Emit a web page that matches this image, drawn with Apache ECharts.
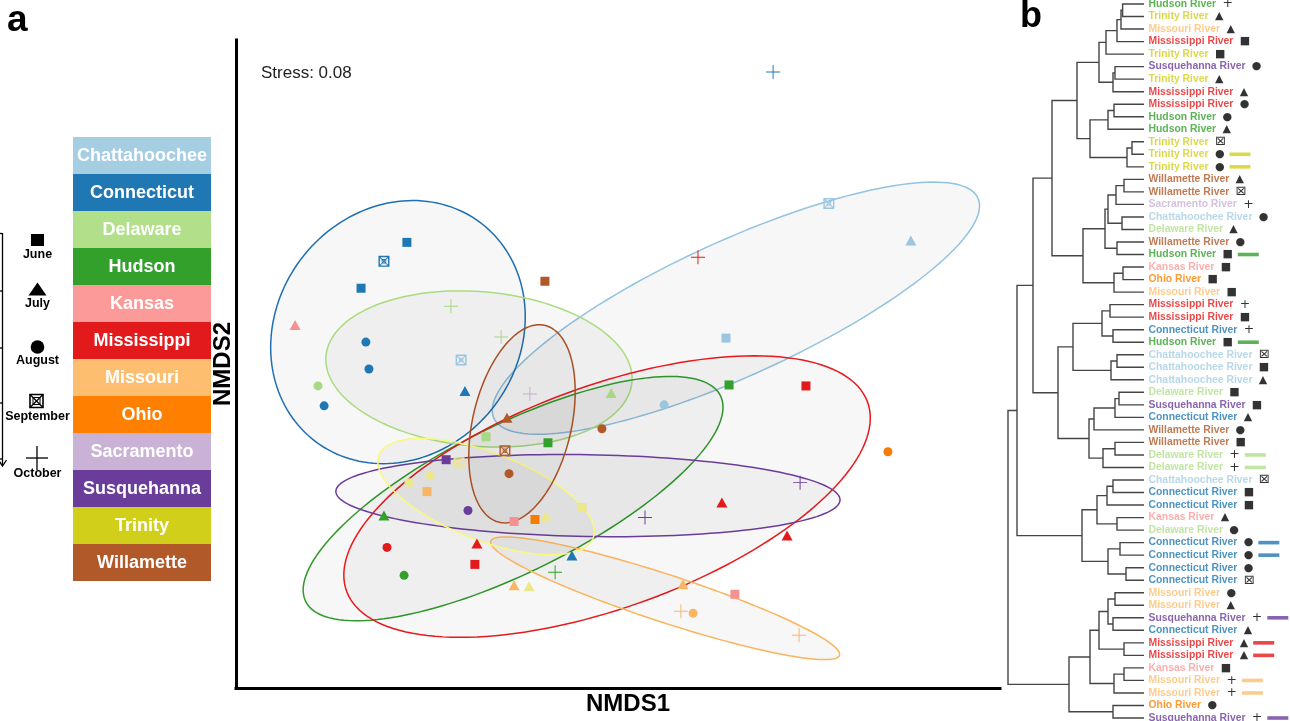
<!DOCTYPE html>
<html>
<head>
<meta charset="utf-8">
<script src="https://cdn.jsdelivr.net/npm/echarts/dist/echarts.min.js"></script>
<style>
  html, body { margin: 0; padding: 0; background: #fff; }
  #chart { width: 1290px; height: 721px; }
</style>
</head>
<body>
<div id="chart"></div>
<script>
// ---- rivers and colours ----
const riverNames = ['Chattahoochee', 'Connecticut', 'Delaware', 'Hudson', 'Kansas', 'Mississippi',
  'Missouri', 'Ohio', 'Sacramento', 'Susquehanna', 'Trinity', 'Willamette'];
const riverColors = ['#a6cee3', '#1f78b4', '#b2df8a', '#33a02c', '#fb9a99', '#e31a1c',
  '#fdbf6f', '#ff7f00', '#cab2d6', '#6a3d9a', '#d2cf1a', '#b15928'];
const pointColors = ['#9cc6df', '#1f78b4', '#a9d784', '#33a02c', '#f5928f', '#e31a1c',
  '#f9b766', '#f77c04', '#c6acd3', '#6a3d9a', '#ebe78b', '#b15928'];
const ellipseStrokeColors = {
  Chattahoochee: '#92c3e0', Connecticut: '#1f6fb4', Delaware: '#a9dc80', Hudson: '#2f9a2a',
  Mississippi: '#e8191c', Missouri: '#fcb45c', Susquehanna: '#6a3d9a', Trinity: '#f9f87e', Willamette: '#a84f22'
};

// ---- sampling months (marker shapes) ----
const monthNames = ['June', 'July', 'August', 'September', 'October'];
const monthGlyphs = ['\u25A0', '\u25B2', '\u25CF', '\u22A0', '+'];

// ---- NMDS ordination scores ----
const sampleRiver = [
  'Connecticut', 'Connecticut', 'Connecticut', 'Connecticut', 'Connecticut', 'Connecticut', 'Connecticut', 'Connecticut', 'Connecticut',
  'Delaware', 'Delaware', 'Delaware', 'Delaware', 'Delaware',
  'Chattahoochee', 'Chattahoochee', 'Chattahoochee', 'Chattahoochee', 'Chattahoochee',
  'Hudson', 'Hudson', 'Hudson', 'Hudson', 'Hudson',
  'Kansas', 'Kansas', 'Kansas',
  'Mississippi', 'Mississippi', 'Mississippi', 'Mississippi', 'Mississippi', 'Mississippi', 'Mississippi',
  'Missouri', 'Missouri', 'Missouri', 'Missouri', 'Missouri', 'Missouri',
  'Ohio', 'Ohio',
  'Sacramento',
  'Susquehanna', 'Susquehanna', 'Susquehanna', 'Susquehanna',
  'Trinity', 'Trinity', 'Trinity', 'Trinity', 'Trinity', 'Trinity',
  'Willamette', 'Willamette', 'Willamette', 'Willamette', 'Willamette'
];
const sampleMonth = [
  0, 0, 3, 2, 2, 2, 1, 1, 4,
  4, 4, 2, 1, 0,
  3, 1, 3, 0, 2,
  0, 1, 4, 2, 0,
  1, 0, 0,
  4, 2, 1, 0, 0, 1, 1,
  0, 1, 1, 4, 2, 4,
  0, 2,
  4,
  0, 2, 4, 4,
  3, 2, 2, 1, 0, 1,
  0, 1, 2, 3, 2
];
const nmds1 = [
  -0.829, -1.009, -0.919, -0.990, -0.978, -1.154, -0.601, -0.181, 0.609,
  -0.656, -0.459, -1.178, -0.027, -0.518,
  0.828, 1.150, -0.616, 0.424, 0.181,
  -0.275, -0.919, -0.247, -0.840, 0.436,
  -1.268, -0.408, 0.459,
  0.314, -0.907, -0.554, -0.562, 0.738, 0.408, 0.664,
  -0.750, -0.408, 0.255, 0.247, 0.295, 0.711,
  -0.326, 1.060,
  -0.346,
  -0.675, -0.589, 0.715, 0.106,
  -0.624, -0.738, -0.821, -0.283, -0.141, -0.349,
  -0.287, -0.436, -0.063, -0.444, -0.428
];
const nmds2 = [
  0.488, 0.304, 0.412, 0.088, -0.020, -0.168, -0.108, -0.768, 1.172,
  0.232, 0.108, -0.088, -0.116, -0.292,
  0.644, 0.496, 0.016, 0.104, -0.164,
  -0.316, -0.608, -0.836, -0.848, -0.084,
  0.156, -0.632, -0.924,
  0.428, -0.736, -0.720, -0.804, -0.088, -0.556, -0.688,
  -0.512, -0.888, -0.884, -0.992, -1.000, -1.088,
  -0.624, -0.352,
  -0.120,
  -0.384, -0.588, -0.476, -0.616,
  -0.396, -0.448, -0.476, -0.612, -0.576, -0.892,
  0.332, -0.216, -0.260, -0.348, -0.440
];

// ---- confidence ellipses per river: centre, semi-axes, rotation (deg) ----
const ellipseRiver = ['Chattahoochee', 'Connecticut', 'Delaware', 'Hudson', 'Mississippi', 'Missouri', 'Susquehanna', 'Trinity', 'Willamette'];
const ellipseCenter1 = [0.463, -0.864, -0.546, -0.412, -0.043, 0.185, -0.118, -0.518, -0.377];
const ellipseCenter2 = [0.224, 0.128, -0.020, -0.540, -0.532, -0.940, -0.528, -0.532, -0.240];
const ellipseSemiMajor = [1.048, 0.546, 0.603, 0.913, 1.091, 0.722, 0.990, 0.452, 0.405];
const ellipseSemiMinor = [0.270, 0.480, 0.310, 0.294, 0.444, 0.095, 0.164, 0.175, 0.194];
const ellipseAngle = [25, 57.6, -5, 27, 20.5, -18.5, -1, -21.7, 77.4];

// ---- hierarchical clustering (leaf order top to bottom) ----
const leafRiver = [
  'Hudson', 'Trinity', 'Missouri', 'Mississippi', 'Trinity', 'Susquehanna', 'Trinity', 'Mississippi', 'Mississippi', 'Hudson',
  'Hudson', 'Trinity', 'Trinity', 'Trinity', 'Willamette', 'Willamette', 'Sacramento', 'Chattahoochee', 'Delaware', 'Willamette',
  'Hudson', 'Kansas', 'Ohio', 'Missouri', 'Mississippi', 'Mississippi', 'Connecticut', 'Hudson', 'Chattahoochee', 'Chattahoochee',
  'Chattahoochee', 'Delaware', 'Susquehanna', 'Connecticut', 'Willamette', 'Willamette', 'Delaware', 'Delaware', 'Chattahoochee', 'Connecticut',
  'Connecticut', 'Kansas', 'Delaware', 'Connecticut', 'Connecticut', 'Connecticut', 'Connecticut', 'Missouri', 'Missouri', 'Susquehanna',
  'Connecticut', 'Mississippi', 'Mississippi', 'Kansas', 'Missouri', 'Missouri', 'Ohio', 'Susquehanna'
];
const leafMonth = [
  4, 1, 1, 0, 0, 2, 1, 1, 2, 2,
  1, 3, 2, 2, 1, 3, 4, 2, 1, 2,
  0, 0, 0, 0, 4, 0, 4, 0, 3, 0,
  1, 0, 0, 1, 2, 0, 4, 4, 3, 0,
  0, 1, 2, 2, 2, 2, 3, 2, 1, 4,
  1, 1, 1, 0, 4, 4, 2, 4
];
const leafMarked = [
  0, 0, 0, 0, 0, 0, 0, 0, 0, 0,
  0, 0, 1, 1, 0, 0, 0, 0, 0, 0,
  1, 0, 0, 0, 0, 0, 0, 1, 0, 0,
  0, 0, 0, 0, 0, 0, 1, 1, 0, 0,
  0, 0, 0, 1, 1, 0, 0, 0, 0, 1,
  0, 1, 1, 0, 1, 1, 0, 1
];
// merge steps: negative = leaf number, positive = earlier merge step
const mergePairs = [
  [-1, -2], [1, -3], [2, -4], [3, -5], [-6, -7], [5, -8], [4, 6], [-9, -10], [8, -11], [-12, -13],
  [10, -14], [9, 11], [7, 12], [-15, -16], [14, -17], [-18, -19], [15, 16], [-20, -21], [17, 18], [-22, -23],
  [20, -24], [19, 21], [13, 22], [-25, -26], [-27, -28], [24, 25], [-29, -30], [27, -31], [26, 28], [-32, -33],
  [30, -34], [31, -35], [-36, -37], [33, -38], [32, 34], [29, 35], [23, 36], [-39, -40], [38, -41], [-42, -43],
  [39, 40], [-44, -45], [-46, -47], [42, 43], [41, 44], [37, 45], [-48, -49], [-50, -51], [47, 48], [-52, -53],
  [49, 50], [-54, -55], [52, -56], [51, 53], [-57, -58], [54, 55], [46, 56]
];
const mergeHeight = [
  0.107, 0.115, 0.135, 0.19, 0.145, 0.155, 0.225, 0.15, 0.18, 0.06,
  0.085, 0.27, 0.335, 0.10, 0.14, 0.11, 0.18, 0.135, 0.195, 0.105,
  0.15, 0.305, 0.46, 0.17, 0.155, 0.21, 0.135, 0.165, 0.355, 0.125,
  0.145, 0.25, 0.145, 0.205, 0.275, 0.43, 0.555, 0.155, 0.185, 0.135,
  0.235, 0.12, 0.09, 0.18, 0.31, 0.635, 0.145, 0.155, 0.18, 0.10,
  0.225, 0.10, 0.15, 0.27, 0.155, 0.375, 0.68
];

// ---- dendrogram layout: node sits midway between its two children ----
const nodePos = [];
const refPos = r => (r < 0 ? { h: 0, y: -r } : nodePos[r - 1]);
const dendroLinks = mergePairs.map((m, i) => {
  const a = refPos(m[0]), b = refPos(m[1]);
  nodePos.push({ h: mergeHeight[i], y: (a.y + b.y) / 2 });
  return [mergeHeight[i], a.y, b.y, a.h, b.h];
});

// ---- marker shapes ----
const sqCrossPath = 'path://M0 0L20 0L20 20L0 20Z M2.6 2.6L2.6 17.4L17.4 17.4L17.4 2.6Z M1.2 0L20 18.8L18.8 20L0 1.2Z M18.8 0L20 1.2L1.2 20L0 18.8Z M6 6L14 6L14 14L6 14Z M7.4 7.4L7.4 12.6L12.6 12.6L12.6 7.4Z';
const plusPath = 'path://M9.3 0H10.7V9.3H20V10.7H10.7V20H9.3V10.7H0V9.3H9.3Z';
const monthSymbols = ['rect', 'triangle', 'circle', sqCrossPath, plusPath];
const monthSymbolSizes = [9, [11, 10], 9, 11, 14];

const chart = echarts.init(document.getElementById('chart'), null, { renderer: 'canvas' });

const scatterSeries = monthNames.map((mName, m) => ({
  name: mName,
  type: 'scatter',
  xAxisIndex: 0, yAxisIndex: 0,
  symbol: monthSymbols[m],
  symbolSize: monthSymbolSizes[m],
  z: 5,
  itemStyle: { opacity: 1 },
  data: sampleRiver.map((r, i) => ({ r, i })).filter(d => sampleMonth[d.i] === m).map(d => ({
    value: [nmds1[d.i], nmds2[d.i]],
    itemStyle: { color: pointColors[riverNames.indexOf(d.r)], opacity: 1 }
  }))
}));

const ellipseSeries = {
  type: 'custom',
  xAxisIndex: 0, yAxisIndex: 0,
  z: 2,
  clip: false,
  data: ellipseRiver.map((r, i) => [ellipseCenter1[i], ellipseCenter2[i], ellipseSemiMajor[i], ellipseSemiMinor[i], ellipseAngle[i]]),
  encode: { x: 0, y: 1 },
  renderItem: (params, api) => {
    const cx = api.value(0), cy = api.value(1), a = api.value(2), b = api.value(3);
    const th = api.value(4) * Math.PI / 180;
    const pts = [];
    for (let k = 0; k < 160; k++) {
      const t = k / 160 * 2 * Math.PI;
      const ex = a * Math.cos(t), ey = b * Math.sin(t);
      pts.push(api.coord([cx + ex * Math.cos(th) - ey * Math.sin(th), cy + ex * Math.sin(th) + ey * Math.cos(th)]));
    }
    return {
      type: 'polygon',
      shape: { points: pts },
      style: { fill: 'rgba(0,0,0,0.032)', stroke: ellipseStrokeColors[ellipseRiver[params.dataIndex]], lineWidth: 1.5 }
    };
  }
};

const dendroSeries = {
  type: 'custom',
  xAxisIndex: 1, yAxisIndex: 1,
  clip: false,
  data: dendroLinks,
  encode: { x: [0, 3, 4], y: [1, 2] },
  renderItem: (params, api) => {
    const h = api.value(0), y1 = api.value(1), y2 = api.value(2), h1 = api.value(3), h2 = api.value(4);
    return {
      type: 'polyline',
      shape: { points: [api.coord([h1, y1]), api.coord([h, y1]), api.coord([h, y2]), api.coord([h2, y2])] },
      style: { stroke: '#454545', lineWidth: 1.4, fill: null }
    };
  }
};

const labelRich = {
  s: { color: '#000', fontSize: 11, fontFamily: 'DejaVu Sans', padding: [0, 0, 0, 3] },
  x: { color: '#000', fontSize: 13, fontFamily: 'DejaVu Sans', padding: [0, 0, 0, 3] },
  p: { color: '#000', fontSize: 12.5, fontFamily: 'DejaVu Sans', padding: [0, 0, 0, 3] },
  g: { width: 5 }
};
const glyphStyle = ['s', 's', 's', 'x', 'p'];
riverNames.forEach((r, k) => {
  labelRich['t' + k] = { color: riverColors[k], fontWeight: 'bold', fontSize: 10.4, fontFamily: 'Liberation Sans, Arial' };
  labelRich['b' + k] = { backgroundColor: riverColors[k], width: 21, height: 3.6 };
});

const leafLabelSeries = {
  type: 'scatter',
  xAxisIndex: 1, yAxisIndex: 1,
  symbolSize: 1,
  itemStyle: { color: 'transparent' },
  silent: true,
  data: leafRiver.map((r, i) => [0, i + 1]),
  label: {
    show: true,
    position: 'right',
    distance: 4,
    formatter: p => {
      const i = p.dataIndex, k = riverNames.indexOf(leafRiver[i]), m = leafMonth[i];
      let s = '{t' + k + '|' + leafRiver[i] + ' River} {' + glyphStyle[m] + '|' + monthGlyphs[m] + '}';
      if (leafMarked[i]) s += '{g|}{b' + k + '|}';
      return s;
    },
    rich: labelRich
  }
};

// ---- legend blocks, month key, annotations ----
const graphics = [];
riverNames.forEach((r, i) => {
  graphics.push({ type: 'rect', shape: { x: 73, y: 137 + i * 37, width: 138, height: 37 }, style: { fill: riverColors[i] } });
  graphics.push({ type: 'text', x: 142, y: 156 + i * 37, style: { text: r, fill: '#fff', font: 'bold 18px "Liberation Sans", Arial', textAlign: 'center', align: 'center', textVerticalAlign: 'middle', verticalAlign: 'middle' } });
});
const monthTextY = [255, 304, 361, 417, 474];
graphics.push({ type: 'rect', shape: { x: 31, y: 234, width: 13, height: 12 }, style: { fill: '#000' } });
graphics.push({ type: 'polygon', shape: { points: [[28.5, 295.5], [46.5, 295.5], [37.5, 282.5]] }, style: { fill: '#000' } });
graphics.push({ type: 'circle', shape: { cx: 37.5, cy: 347, r: 6.8 }, style: { fill: '#000' } });
graphics.push({ type: 'rect', shape: { x: 30, y: 394.5, width: 13, height: 13 }, style: { fill: 'none', stroke: '#000', lineWidth: 1.6 } });
graphics.push({ type: 'rect', shape: { x: 33, y: 397.5, width: 7, height: 7 }, style: { fill: 'none', stroke: '#000', lineWidth: 1 } });
graphics.push({ type: 'line', shape: { x1: 30, y1: 394.5, x2: 43, y2: 407.5 }, style: { stroke: '#000', lineWidth: 1.2 } });
graphics.push({ type: 'line', shape: { x1: 43, y1: 394.5, x2: 30, y2: 407.5 }, style: { stroke: '#000', lineWidth: 1.2 } });
graphics.push({ type: 'line', shape: { x1: 26, y1: 458, x2: 48, y2: 458 }, style: { stroke: '#000', lineWidth: 1.3 } });
graphics.push({ type: 'line', shape: { x1: 37, y1: 446, x2: 37, y2: 470 }, style: { stroke: '#000', lineWidth: 1.3 } });
monthNames.forEach((m, i) => {
  graphics.push({ type: 'text', x: 37.5, y: monthTextY[i], style: { text: m, fill: '#000', font: 'bold 12.5px "Liberation Sans", Arial', textAlign: 'center', align: 'center', textVerticalAlign: 'middle', verticalAlign: 'middle' } });
});
// time arrow on the far left
graphics.push({ type: 'line', shape: { x1: 2.5, y1: 233, x2: 2.5, y2: 465 }, style: { stroke: '#000', lineWidth: 1.3 } });
[233.5, 291, 348, 403, 459].forEach(y => {
  graphics.push({ type: 'line', shape: { x1: 0, y1: y, x2: 2.5, y2: y }, style: { stroke: '#000', lineWidth: 1.3 } });
});
graphics.push({ type: 'polyline', shape: { points: [[-1.5, 460], [2.5, 466], [6.5, 460]] }, style: { stroke: '#000', lineWidth: 1.3, fill: null } });

graphics.push({ type: 'text', x: 261, y: 73, style: { text: 'Stress: 0.08', fill: '#222', font: '17px "Liberation Sans", Arial', textVerticalAlign: 'middle', verticalAlign: 'middle' } });
graphics.push({ type: 'text', x: 7, y: 21, style: { text: 'a', fill: '#000', font: 'bold 37px "Liberation Sans", Arial', textVerticalAlign: 'middle', verticalAlign: 'middle' } });
graphics.push({ type: 'text', x: 1020, y: 17, style: { text: 'b', fill: '#000', font: 'bold 36px "Liberation Sans", Arial', textVerticalAlign: 'middle', verticalAlign: 'middle' } });

const hiddenAxis = { show: false };
chart.setOption({
  animation: false,
  backgroundColor: '#fff',
  textStyle: { fontFamily: '"Liberation Sans", Arial, sans-serif' },
  grid: [
    { left: 236, top: 40, width: 764, height: 650 },
    { left: 1008, top: 4, width: 136, height: 714 }
  ],
  xAxis: [
    {
      gridIndex: 0, type: 'value', min: -1.5, max: 1.5,
      name: 'NMDS1', nameLocation: 'middle', nameGap: 4,
      nameTextStyle: { fontSize: 24, fontWeight: 'bold', color: '#000', padding: [0, 0, 0, 20] },
      axisLine: { onZero: false, lineStyle: { color: '#000', width: 3, cap: 'square' } },
      axisTick: { show: false }, axisLabel: { show: false }, splitLine: { show: false }
    },
    { gridIndex: 1, type: 'value', min: 0, max: 0.68, inverse: true, ...hiddenAxis }
  ],
  yAxis: [
    {
      gridIndex: 0, type: 'value', min: -1.3, max: 1.3,
      name: 'NMDS2', nameLocation: 'middle', nameGap: 1, nameRotate: 90,
      nameTextStyle: { fontSize: 24, fontWeight: 'bold', color: '#000' },
      axisLine: { onZero: false, lineStyle: { color: '#000', width: 3, cap: 'square' } },
      axisTick: { show: false }, axisLabel: { show: false }, splitLine: { show: false }
    },
    { gridIndex: 1, type: 'value', min: 1, max: 58, inverse: true, ...hiddenAxis }
  ],
  series: [ellipseSeries, ...scatterSeries, dendroSeries, leafLabelSeries],
  graphic: { elements: graphics }
});
</script>
</body>
</html>
